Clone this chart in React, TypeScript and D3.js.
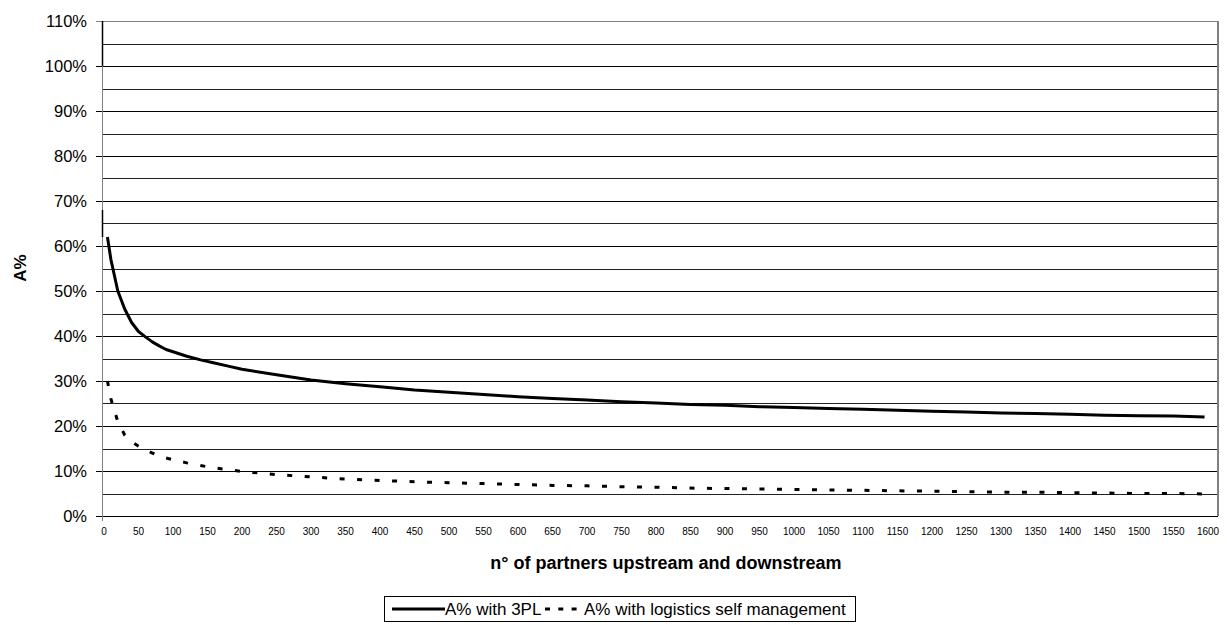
import React from "react";
import * as d3 from "d3";

const xTicks: number[] = d3.range(0, 1601, 50);
const yTicks: number[] = d3.range(0, 1.101, 0.1);
const yMinor: number[] = d3.range(0.05, 1.1, 0.1);

const nValues: number[] = [5, 10, 20, 30, 40, 50, 60, 70, 80, 90, 100, 120, 140, 160, 180, 200, 250, 300, 350, 400, 450, 500, 550, 600, 650, 700, 750, 800, 850, 900, 950, 1000, 1050, 1100, 1150, 1200, 1250, 1300, 1350, 1400, 1450, 1500, 1550, 1595];
const with3PL: number[] = [0.62, 0.57, 0.5, 0.46, 0.43, 0.41, 0.398, 0.387, 0.378, 0.37, 0.365, 0.355, 0.347, 0.34, 0.333, 0.326, 0.314, 0.302, 0.294, 0.287, 0.28, 0.275, 0.27, 0.265, 0.261, 0.258, 0.254, 0.251, 0.248, 0.246, 0.243, 0.241, 0.239, 0.237, 0.235, 0.233, 0.231, 0.229, 0.228, 0.226, 0.224, 0.223, 0.222, 0.22];
const selfMgmt: number[] = [0.3, 0.26, 0.21, 0.18, 0.165, 0.155, 0.147, 0.14, 0.134, 0.129, 0.125, 0.118, 0.112, 0.107, 0.103, 0.099, 0.092, 0.087, 0.082, 0.079, 0.076, 0.074, 0.072, 0.07, 0.068, 0.067, 0.065, 0.064, 0.062, 0.061, 0.06, 0.059, 0.058, 0.057, 0.056, 0.055, 0.054, 0.053, 0.053, 0.052, 0.051, 0.05, 0.05, 0.049];

const W = 1227;
const H = 625;
const left = 102;
const right = 1218;
const top = 21;
const bottom = 516;

export default function App() {
  const x = d3.scaleLinear().domain([0, 1600]).range([104, 1208]);
  const y = d3.scaleLinear().domain([0, 1.1]).range([bottom, top]);
  const line = d3
    .line<number>()
    .x((_, i) => x(nValues[i]))
    .y((d) => y(d));
  const font = "Liberation Sans, Arial, sans-serif";
  return (
    <svg width={W} height={H} style={{ position: "absolute", left: 0, top: 0 }} fontFamily={font}>
      <rect x={0} y={0} width={W} height={H} fill="#fff" />
      {yMinor.map((v) => (
        <line key={"m" + v} x1={left} x2={right} y1={Math.round(y(v)) + 0.5} y2={Math.round(y(v)) + 0.5} stroke="#222" strokeWidth={1} />
      ))}
      {yTicks.map((v) => (
        <line key={"g" + v} x1={left - 6} x2={right} y1={Math.round(y(v)) + 0.5} y2={Math.round(y(v)) + 0.5} stroke={v > 1.05 ? "#808080" : "#000"} strokeWidth={1} />
      ))}
      <line x1={right} x2={right} y1={top} y2={bottom} stroke="#808080" strokeWidth={2} />
      <line x1={left + 0.5} x2={left + 0.5} y1={top} y2={bottom + 5} stroke="#808080" strokeWidth={1} />
      <line x1={left + 0.5} x2={left + 0.5} y1={top} y2={y(1.0)} stroke="#000" strokeWidth={1.5} />
      <line x1={left + 0.5} x2={left + 0.5} y1={y(0.68)} y2={y(0.62)} stroke="#000" strokeWidth={1.5} />
      {yTicks.map((v) => (
        <text key={"t" + v} x={87} y={y(v)} dy="0.35em" textAnchor="end" fontSize={16.5} fill="#000">
          {Math.round(v * 100) + "%"}
        </text>
      ))}
      {xTicks.map((v) => (
        <text key={"x" + v} x={x(v)} y={531} dy="0.35em" textAnchor="middle" fontSize={10} fill="#000">
          {v}
        </text>
      ))}
      <path d={line(with3PL) || ""} fill="none" stroke="#000" strokeWidth={3} strokeLinejoin="round" />
      <path d={line(selfMgmt) || ""} fill="none" stroke="#000" strokeWidth={3} strokeDasharray="5,12.5" />
      <text x={666} y={563} dy="0.35em" textAnchor="middle" fontSize={18} fontWeight="bold">
        n° of partners upstream and downstream
      </text>
      <text transform={`translate(20,268) rotate(-90)`} dy="0.35em" textAnchor="middle" fontSize={17} fontWeight="bold">
        A%
      </text>
      <rect x={384.5} y={596.5} width={471} height={25} fill="#fff" stroke="#000" strokeWidth={1} />
      <line x1={392} x2={445} y1={609} y2={609} stroke="#000" strokeWidth={3} />
      <text x={445} y={609} dy="0.35em" fontSize={17}>A% with 3PL</text>
      <line x1={545} x2={583} y1={609} y2={609} stroke="#000" strokeWidth={3} strokeDasharray="5,8.3" />
      <text x={584} y={609} dy="0.35em" fontSize={17}>A% with logistics self management</text>
    </svg>
  );
}
